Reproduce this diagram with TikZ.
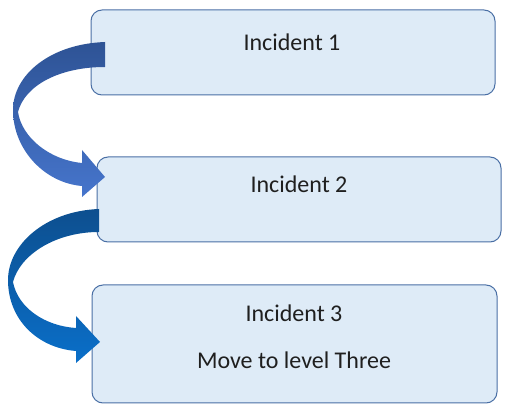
\documentclass[tikz,border=0pt]{standalone}
\usepackage{fontspec}
\setmainfont{Carlito}
\definecolor{boxfill}{HTML}{DEEBF7}
\definecolor{boxline}{HTML}{4A6FA5}
\definecolor{aonetop}{HTML}{2E5395}
\definecolor{aonebot}{HTML}{4675CC}
\definecolor{atwotop}{HTML}{0D4F8F}
\definecolor{atwobot}{HTML}{0A6FC9}
\begin{document}
\begin{tikzpicture}[x=1pt,y=-1pt,
  box/.style={draw=boxline, fill=boxfill, line width=1pt, rounded corners=11pt, inner sep=0pt},
  lbl/.style={font=\fontsize{24}{28}\selectfont, text=black!88, anchor=base, inner sep=0pt}]
\useasboundingbox (0,0) rectangle (507,406);
\node[box, minimum width=404pt, minimum height=85pt] (b1) at (293,52.5) {};
\node[box, minimum width=404pt, minimum height=85pt] (b2) at (299,199.5) {};
\node[box, minimum width=405pt, minimum height=118pt] (b3) at (294.5,344) {};
\node[lbl] (t1) at (292,51) {Incident 1};
\node[lbl] (t2) at (299,193) {Incident 2};
\node[lbl] (t3) at (294,322) {Incident 3};
\node[lbl] (t4) at (294,369) {Move to level Three};
% arrow 1
\shade[top color=aonetop, bottom color=aonebot]
  (105,42) .. controls (50,44) and (13,75) .. (13,110)
  .. controls (13,150) and (45,183) .. (82,186)
  -- (82,197) -- (105,177) -- (82,150) -- (82,163)
  .. controls (50,160) and (22,138) .. (18,112)
  .. controls (25,85) and (60,67) .. (105,67) -- cycle;
% arrow 2
\shade[top color=atwotop, bottom color=atwobot]
  (99,209) .. controls (45,211) and (8,245) .. (8,280)
  .. controls (8,320) and (38,348) .. (76,351)
  -- (76,363) -- (100,342) -- (76,316) -- (76,328)
  .. controls (45,326) and (18,308) .. (13,282)
  .. controls (20,255) and (55,232) .. (99,232) -- cycle;
\end{tikzpicture}
\end{document}
